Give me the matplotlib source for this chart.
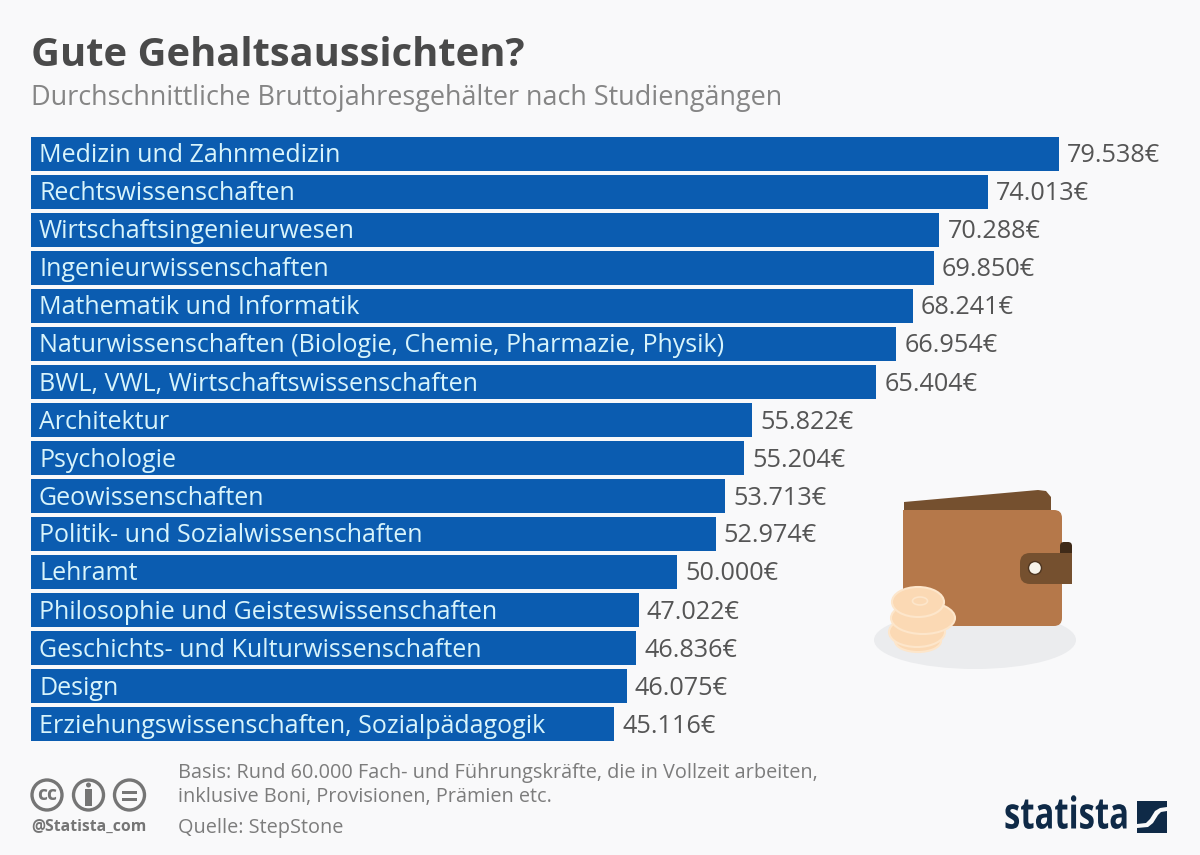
import matplotlib
matplotlib.use("Agg")
import matplotlib.pyplot as plt
from matplotlib.patches import Circle, Ellipse, FancyBboxPatch, Polygon, Rectangle
from matplotlib.patheffects import AbstractPathEffect
from matplotlib.transforms import Affine2D

plt.rcParams["font.family"] = ["Open Sans", "DejaVu Sans"]

# ── Data ──────────────────────────────────────────────────────────────────────
studies = [
    "Medizin und Zahnmedizin",
    "Rechtswissenschaften",
    "Wirtschaftsingenieurwesen",
    "Ingenieurwissenschaften",
    "Mathematik und Informatik",
    "Naturwissenschaften (Biologie, Chemie, Pharmazie, Physik)",
    "BWL, VWL, Wirtschaftswissenschaften",
    "Architektur",
    "Psychologie",
    "Geowissenschaften",
    "Politik- und Sozialwissenschaften",
    "Lehramt",
    "Philosophie und Geisteswissenschaften",
    "Geschichts- und Kulturwissenschaften",
    "Design",
    "Erziehungswissenschaften, Sozialpädagogik",
]
salaries = [79538, 74013, 70288, 69850, 68241, 66954, 65404, 55822,
            55204, 53713, 52974, 50000, 47022, 46836, 46075, 45116]

W, H = 1200, 855
BG = "#f9f9fa"
BAR = "#0b5cb0"
DARK = "#4a4a4a"
GREY = "#7c7c7c"


class Squeeze(AbstractPathEffect):
    """Narrow a text horizontally around a display x (no condensed font here)."""

    def __init__(self, x0, sx):
        super().__init__()
        self.x0, self.sx = x0, sx

    def draw_path(self, renderer, gc, tpath, affine, rgbFace=None):
        squeeze = Affine2D().translate(-self.x0, 0).scale(self.sx, 1).translate(self.x0, 0)
        renderer.draw_path(gc, tpath, affine + squeeze, rgbFace)


fig = plt.figure(figsize=(W / 100, H / 100), dpi=100, facecolor=BG)

# overlay in pixel coordinates for texts and pictograms
bg = fig.add_axes([0, 0, 1, 1])
bg.set_xlim(0, W)
bg.set_ylim(H, 0)
bg.axis("off")

# ── Bars ──────────────────────────────────────────────────────────────────────
# axes spans 31..1059 px and 135..743 px
ax = fig.add_axes([31 / W, 1 - 743 / H, (1059 - 31) / W, (743 - 135) / H])
ax.patch.set_alpha(0)
ypos = list(range(len(studies)))
ax.barh(ypos, salaries, height=34 / 38, color=BAR, linewidth=0)
ax.set_xlim(0, max(salaries))
ax.set_ylim(len(studies) - 0.5, -0.5)
ax.axis("off")

for i, (name, val) in enumerate(zip(studies, salaries)):
    ax.annotate(name, (0, i), xytext=(8, -2), textcoords="offset pixels",
                ha="left", va="center", fontsize=18.0, color="#d8f4fb")
    label = f"{val:,}€".replace(",", ".")
    ax.annotate(label, (val, i), xytext=(8, -2), textcoords="offset pixels",
                ha="left", va="center", fontsize=18.2, color="#555555",
                annotation_clip=False)

# ── Title ─────────────────────────────────────────────────────────────────────
bg.text(31, 55, "Gute Gehaltsaussichten?", fontsize=28.7, fontweight="bold",
        color=DARK, ha="left", va="center")
bg.text(31, 98, "Durchschnittliche Bruttojahresgehälter nach Studiengängen",
        fontsize=19.45, color="#858585", ha="left", va="center")

# ── Wallet ────────────────────────────────────────────────────────────────────
bg.add_patch(Ellipse((975, 640), 202, 58, color="#ebecee", lw=0))
bg.add_patch(Polygon([(904, 502), (1038, 490), (1046, 491), (1051, 497), (1051, 515), (904, 515)],
                     closed=True, color="#75502f", lw=0))
bg.add_patch(FancyBboxPatch((903, 510), 159, 116, boxstyle="round,pad=0,rounding_size=8",
                            fc="#b5784a", ec="none"))
bg.add_patch(Rectangle((903, 510), 20, 116, color="#b5784a", lw=0))
bg.add_patch(FancyBboxPatch((1060, 542), 12, 20, boxstyle="round,pad=0,rounding_size=4",
                            fc="#3f2a18", ec="none"))
bg.add_patch(FancyBboxPatch((1020, 553), 52, 31, boxstyle="round,pad=0,rounding_size=10",
                            fc="#75502f", ec="none"))
bg.add_patch(Rectangle((1050, 553), 22, 31, color="#75502f", lw=0))
bg.add_patch(Circle((1035, 568), 6.5, fc="#f7f3ea", ec="#4e3520", lw=1))

# coins
for cx, cy, rx, ry in [(918, 641, 23, 11), (917, 632, 28, 15), (923, 618, 32, 16), (918, 602, 26, 15)]:
    bg.add_patch(Ellipse((cx, cy), rx * 2, ry * 2, fc="#fbd9b4", ec="#fde6cb", lw=1.5))
bg.add_patch(Ellipse((920, 601), 15, 8, fc="none", ec="#fde6cb", lw=1.2))

# ── Footer: licence icons ─────────────────────────────────────────────────────
for cx in [47, 88.5, 129.5]:
    bg.add_patch(Circle((cx, 795), 15, fc="none", ec="#757575", lw=2.4))
bg.text(47, 795, "cc", fontsize=14, fontweight="bold", color="#757575", ha="center", va="center")
bg.add_patch(Circle((88.5, 785), 2.5, color="#757575", lw=0))
bg.add_patch(Rectangle((85, 789), 7, 17, color="#757575", lw=0))
bg.add_patch(Rectangle((122, 790.5), 15, 3, color="#757575", lw=0))
bg.add_patch(Rectangle((122, 797.5), 15, 3, color="#757575", lw=0))
bg.text(31, 827, "@Statista_com", fontsize=11.3, fontweight="bold", color="#757575",
        ha="left", va="center")

# ── Footer: notes ─────────────────────────────────────────────────────────────
bg.text(178, 773, "Basis: Rund 60.000 Fach- und Führungskräfte, die in Vollzeit arbeiten,",
        fontsize=14.3, color=GREY, ha="left", va="center")
bg.text(178, 797, "inklusive Boni, Provisionen, Prämien etc.",
        fontsize=14.3, color=GREY, ha="left", va="center")
bg.text(178, 828, "Quelle: StepStone", fontsize=14.3, color=GREY, ha="left", va="center")

# ── Footer: logo ──────────────────────────────────────────────────────────────
NAVY = "#0f2a47"
bg.text(1004, 817, "statista", fontsize=31.5, fontweight="bold", color=NAVY,
        ha="left", va="center", path_effects=[Squeeze(1004, 0.75)])
bg.add_patch(Rectangle((1137, 801), 30, 32, color=NAVY, lw=0))
swoosh = [(1137, 824), (1146, 823), (1150, 819), (1155, 811), (1160, 808), (1167, 807),
          (1167, 811), (1161, 812), (1158, 815), (1153, 823), (1148, 827), (1137, 828)]
bg.add_patch(Polygon(swoosh, closed=True, color=BG, lw=0))

plt.savefig("out.png", dpi=100, facecolor=fig.get_facecolor())
plt.close()
